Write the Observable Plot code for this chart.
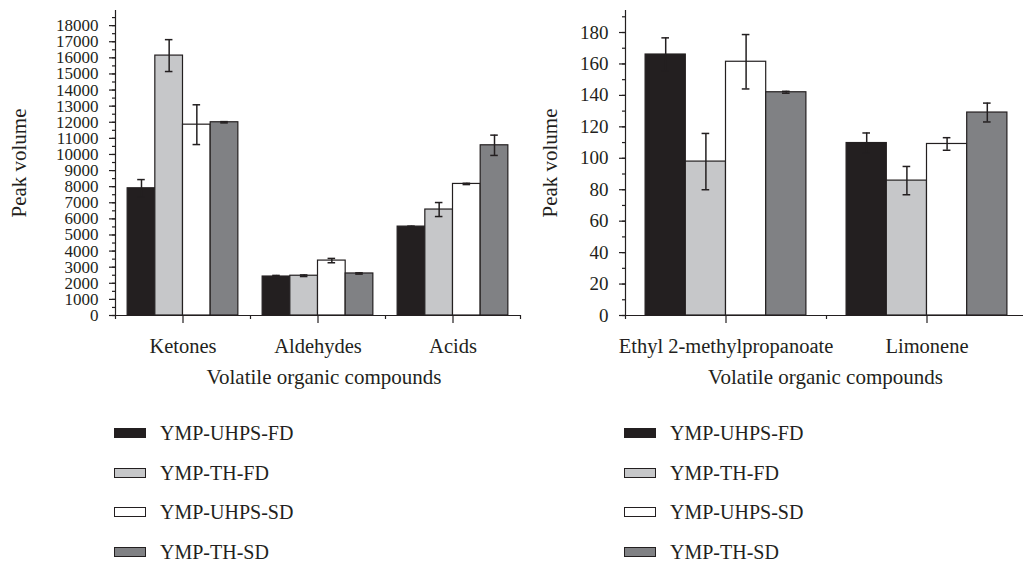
<!DOCTYPE html>
<html><head><meta charset="utf-8">
<script src="https://cdn.jsdelivr.net/npm/d3@7"></script>
<script src="https://cdn.jsdelivr.net/npm/@observablehq/plot@0.6"></script>
<style>
html,body{margin:0;padding:0;background:#fff;overflow:hidden;width:1023px;height:564px;}
#root{position:relative;width:1023px;height:564px;font-family:"Liberation Serif",serif;color:#231f20;}
.chart{position:absolute;top:0;}
.chart svg{max-width:none !important;}
.item{position:absolute;height:22px;display:flex;align-items:center;font-size:20px;white-space:nowrap;}
.sw{width:30px;height:8px;border:1px solid #231f20;margin-right:14px;}
</style></head><body><div id="root"></div>
<script>
// ---- data ----
const series = ["YMP-UHPS-FD", "YMP-TH-FD", "YMP-UHPS-SD", "YMP-TH-SD"];
const seriesColors = ["#231f20", "#c6c7c9", "#ffffff", "#808184"];

const groupsLeft = ["Ketones", "Aldehydes", "Acids"];
const uhpsFdLeft = [7900, 2420, 5520];
const thFdLeft   = [16140, 2470, 6580];
const uhpsSdLeft = [11850, 3410, 8170];
const thSdLeft   = [12000, 2610, 10570];
const uhpsFdLeftErr = [540, 70, 30];
const thFdLeftErr   = [990, 50, 435];
const uhpsSdLeftErr = [1235, 135, 40];
const thSdLeftErr   = [40, 40, 630];
const yTicksLeft = d3.range(0, 18001, 1000);
const yMinorLeft = d3.range(0, 18501, 500);

const groupsRight = ["Ethyl 2-methylpropanoate", "Limonene"];
const uhpsFdRight = [166.0, 109.7];
const thFdRight   = [97.9, 85.8];
const uhpsSdRight = [161.4, 109.1];
const thSdRight   = [142.0, 129.1];
const uhpsFdRightErr = [10.6, 6.4];
const thFdRightErr   = [17.9, 9.0];
const uhpsSdRightErr = [17.3, 4.0];
const thSdRightErr   = [0.6, 6.0];
const yTicksRight = d3.range(0, 181, 20);
const yMinorRight = d3.range(0, 191, 10);

const yTitle = "Peak volume";
const xTitle = "Volatile organic compounds";

// ---- chart builder ----
const ink = "#231f20";
function buildRows(groups, vals, errs) {
  return groups.flatMap((g, gi) => series.map((s, j) => ({
    group: g, gi, series: s, j, value: vals[j][gi], err: errs[j][gi]
  })));
}

function chart({groups, vals, errs, yMax, ticks, minor, width, marginLeft, pad, capHalf, yTitleDx, xTitleDx, tickFont}) {
  const rows = buildRows(groups, vals, errs);
  const bw = (1 - 2 * pad) / series.length;
  const x1 = d => d.gi + pad + d.j * bw;
  const cx = d => x1(d) + bw / 2;
  return Plot.plot({
    width, height: 400,
    marginLeft, marginRight: 0, marginTop: 10, marginBottom: 85,
    style: {fontFamily: "Liberation Serif, serif", fontSize: "18px", color: ink, background: "transparent", overflow: "visible"},
    x: {domain: [0, groups.length]},
    y: {domain: [0, yMax]},
    color: {domain: series, range: seriesColors},
    marks: [
      Plot.rect(rows, {x1, x2: d => x1(d) + bw, y1: 0, y2: "value", fill: "series", stroke: ink, strokeWidth: 1.2}),
      Plot.ruleX(rows, {x: cx, y1: d => d.value - d.err, y2: d => d.value + d.err, stroke: ink, strokeWidth: 1.5}),
      Plot.ruleY(rows, {y: d => d.value + d.err, x1: d => cx(d) - capHalf, x2: d => cx(d) + capHalf, stroke: ink, strokeWidth: 1.5}),
      Plot.ruleY(rows, {y: d => d.value - d.err, x1: d => cx(d) - capHalf, x2: d => cx(d) + capHalf, stroke: ink, strokeWidth: 1.5}),
      Plot.ruleX([0], {y1: 0, y2: yMax, stroke: ink, strokeWidth: 1.2}),
      Plot.ruleY([0], {stroke: ink, strokeWidth: 1.2}),
      Plot.axisY({ticks: minor, tickSize: 3, tickFormat: () => "", label: null, strokeWidth: 1.2}),
      Plot.axisY({ticks, tickSize: 6, tickPadding: 11, tickFormat: d => String(d), label: null, fontSize: tickFont, strokeWidth: 1.2}),
      Plot.axisX({ticks: d3.range(0, groups.length + 1), tickSize: 4, tickFormat: () => "", label: null, strokeWidth: 1.2}),
      Plot.axisX({ticks: groups.map((g, i) => i + 0.5), tickSize: 8, tickFormat: () => "", label: null, strokeWidth: 1.2}),
      Plot.text(groups, {x: (g, i) => i + 0.5, y: 0, dy: 31, fontSize: 20.5, fill: ink, lineAnchor: "middle"}),
      Plot.text([xTitle], {frameAnchor: "bottom", lineAnchor: "middle", textAnchor: "middle", dy: 62, dx: xTitleDx, fontSize: 21, fill: ink}),
      Plot.text([yTitle], {frameAnchor: "left", rotate: -90, textAnchor: "middle", lineAnchor: "middle", dx: yTitleDx, fontSize: 21, fill: ink})
    ]
  });
}

function legend(root, left) {
  const tops = [433, 473, 512, 552];
  series.forEach((s, i) => {
    const it = document.createElement("div");
    it.className = "item";
    it.style.left = left + "px";
    it.style.top = (tops[i] - 11) + "px";
    const sw = document.createElement("div");
    sw.className = "sw";
    sw.style.background = seriesColors[i];
    const t = document.createElement("span");
    t.textContent = s;
    it.append(sw, t);
    root.append(it);
  });
}

const root = document.getElementById("root");

const leftDiv = document.createElement("div");
leftDiv.className = "chart"; leftDiv.style.left = "0px";
leftDiv.append(chart({
  groups: groupsLeft,
  vals: [uhpsFdLeft, thFdLeft, uhpsSdLeft, thSdLeft],
  errs: [uhpsFdLeftErr, thFdLeftErr, uhpsSdLeftErr, thSdLeftErr],
  yMax: 18940, ticks: yTicksLeft, minor: yMinorLeft,
  width: 520, marginLeft: 115, pad: 0.09, capHalf: 0.028, yTitleDx: -96, xTitleDx: 6, tickFont: 17
}));
root.append(leftDiv);

const rightDiv = document.createElement("div");
rightDiv.className = "chart"; rightDiv.style.left = "520px";
rightDiv.append(chart({
  groups: groupsRight,
  vals: [uhpsFdRight, thFdRight, uhpsSdRight, thSdRight],
  errs: [uhpsFdRightErr, thFdRightErr, uhpsSdRightErr, thSdRightErr],
  yMax: 194, ticks: yTicksRight, minor: yMinorRight,
  width: 507, marginLeft: 105, pad: 0.1, capHalf: 0.019, yTitleDx: -75, xTitleDx: -1, tickFont: 19
}));
root.append(rightDiv);

legend(root, 114);
legend(root, 624);
</script>
</body></html>
